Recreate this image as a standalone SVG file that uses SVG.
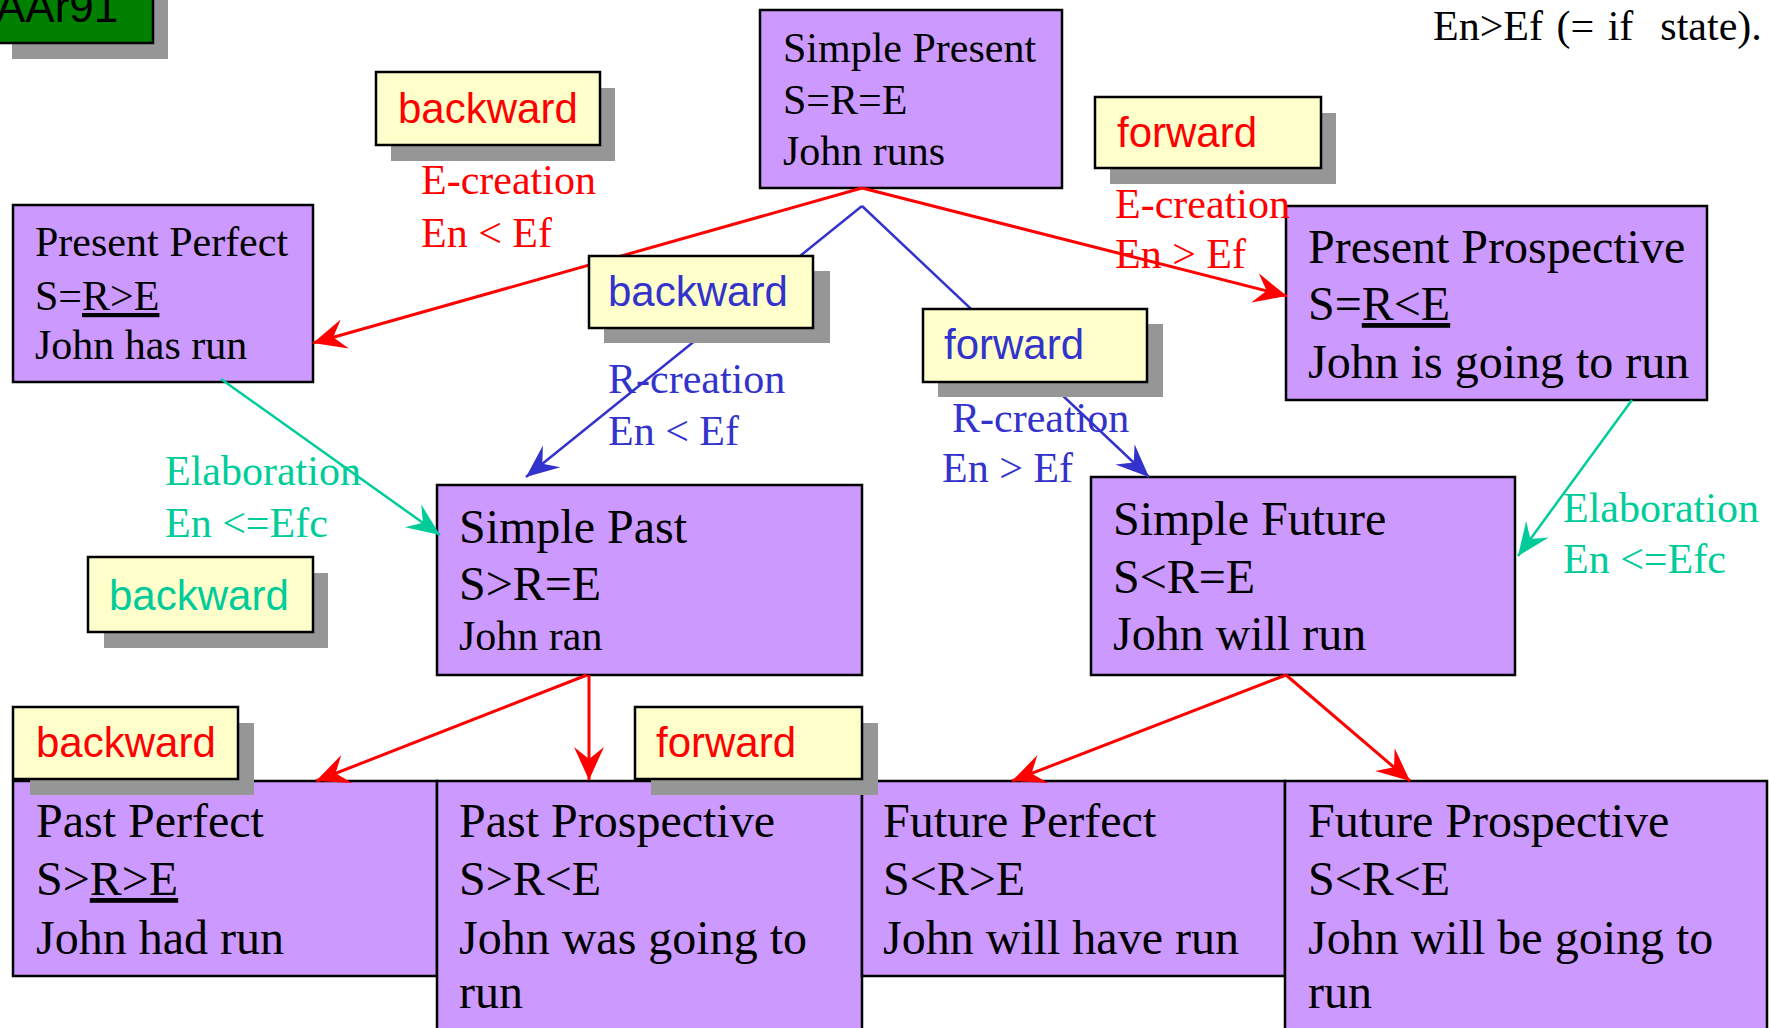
<svg xmlns="http://www.w3.org/2000/svg" width="1769" height="1028" viewBox="0 0 1769 1028">
<style>
.node{fill:#CC99FF;stroke:#000;stroke-width:2.5}
.lbl{fill:#FFFFCC;stroke:#000;stroke-width:2.5}
.shd{fill:#969696}
.t{font-family:"Liberation Serif","Times New Roman",serif;fill:#000}
.s42{font-size:42px}
.s47{font-size:48px}
.a{font-family:"Liberation Sans",Arial,sans-serif;font-size:42px}
.red{fill:#FF0000}
.blue{fill:#3333CC}
.green{fill:#00CC99}
.ul{text-decoration:underline}
.cr{stroke:#FF0000;stroke-width:3;fill:none;marker-end:url(#ar)}
.cb{stroke:#3333CC;stroke-width:2.5;fill:none;marker-end:url(#ab)}
.cg{stroke:#00CC99;stroke-width:2.5;fill:none;marker-end:url(#ag)}
.lt{font-family:"Liberation Serif","Times New Roman",serif;font-size:42px}
</style>
<defs>
<marker id="ar" viewBox="-34 -17 36 34" refX="0" refY="0" markerWidth="36" markerHeight="34" markerUnits="userSpaceOnUse" orient="auto">
<path d="M0,0 L-33,-15 L-21,0 L-33,15 Z" fill="#FF0000"/>
</marker>
<marker id="ab" viewBox="-34 -17 36 34" refX="0" refY="0" markerWidth="36" markerHeight="34" markerUnits="userSpaceOnUse" orient="auto">
<path d="M0,0 L-33,-14 L-21,0 L-33,14 Z" fill="#3333CC"/>
</marker>
<marker id="ag" viewBox="-34 -17 36 34" refX="0" refY="0" markerWidth="36" markerHeight="34" markerUnits="userSpaceOnUse" orient="auto">
<path d="M0,0 L-33,-14 L-21,0 L-33,14 Z" fill="#00CC99"/>
</marker>
</defs>
<rect width="1769" height="1028" fill="#fff"/>

<!-- purple nodes -->
<g id="simple-present">
<rect class="node" x="760" y="10" width="302" height="178"/>
<text class="t s42" x="783" y="62">Simple Present</text>
<text class="t s42" x="783" y="114">S=R=E</text>
<text class="t s42" x="783" y="165">John runs</text>
</g>
<g id="present-perfect">
<rect class="node" x="13" y="205" width="300" height="177"/>
<text class="t s42" x="35" y="256">Present Perfect</text>
<text class="t s42" x="35" y="310">S=<tspan class="ul">R&gt;E</tspan></text>
<text class="t s42" x="35" y="359">John has run</text>
</g>
<g id="present-prospective">
<rect class="node" x="1286" y="206" width="421" height="194"/>
<text class="t s47" x="1308" y="263">Present Prospective</text>
<text class="t s47" x="1308" y="320">S=<tspan class="ul">R&lt;E</tspan></text>
<text class="t s47" x="1308" y="378">John is going to run</text>
</g>
<g id="simple-past">
<rect class="node" x="437" y="485" width="425" height="190"/>
<text class="t s47" x="459" y="543">Simple Past</text>
<text class="t s47" x="459" y="600">S&gt;R=E</text>
<text class="t s42" x="459" y="650">John ran</text>
</g>
<g id="simple-future">
<rect class="node" x="1091" y="477" width="424" height="198"/>
<text class="t s47" x="1113" y="535">Simple Future</text>
<text class="t s47" x="1113" y="593">S&lt;R=E</text>
<text class="t s47" x="1113" y="650">John will run</text>
</g>
<g id="past-perfect">
<rect class="node" x="13" y="781" width="424" height="195"/>
<text class="t s47" x="36" y="837">Past Perfect</text>
<text class="t s47" x="36" y="895">S&gt;<tspan class="ul">R&gt;E</tspan></text>
<text class="t s47" x="36" y="954">John had run</text>
</g>
<g id="past-prospective">
<rect class="node" x="437" y="781" width="425" height="262"/>
<text class="t s47" x="459" y="837">Past Prospective</text>
<text class="t s47" x="459" y="895">S&gt;R&lt;E</text>
<text class="t s47" x="459" y="954">John was going to</text>
<text class="t s47" x="459" y="1008">run</text>
</g>
<g id="future-perfect">
<rect class="node" x="862" y="781" width="423" height="195"/>
<text class="t s47" x="883" y="837">Future Perfect</text>
<text class="t s47" x="883" y="895">S&lt;R&gt;E</text>
<text class="t s47" x="883" y="954">John will have run</text>
</g>
<g id="future-prospective">
<rect class="node" x="1285" y="781" width="482" height="262"/>
<text class="t s47" x="1308" y="837">Future Prospective</text>
<text class="t s47" x="1308" y="895">S&lt;R&lt;E</text>
<text class="t s47" x="1308" y="954">John will be going to</text>
<text class="t s47" x="1308" y="1008">run</text>
</g>

<!-- connectors -->
<g id="connectors">
<line class="cr" x1="862" y1="188" x2="313" y2="343"/>
<line class="cr" x1="862" y1="188" x2="1287" y2="296"/>
<line class="cb" x1="862" y1="206" x2="526" y2="477"/>
<line class="cb" x1="862" y1="206" x2="1149" y2="477"/>
<line class="cg" x1="221" y1="379" x2="440" y2="535"/>
<line class="cg" x1="1632" y1="400" x2="1518" y2="556"/>
<line class="cr" x1="587" y1="675" x2="316" y2="781"/>
<line class="cr" x1="589" y1="675" x2="589" y2="780"/>
<line class="cr" x1="1286" y1="675" x2="1012" y2="781"/>
<line class="cr" x1="1286" y1="675" x2="1410" y2="781"/>
</g>

<!-- label boxes -->
<g id="label-aar91">
<rect class="shd" x="12" y="-14" width="156" height="73"/>
<rect x="-3" y="-30" width="156" height="73" fill="#007F00" stroke="#000" stroke-width="2.5"/>
<text class="a" x="-4" y="22" style="font-size:44px" fill="#000">AAr91</text>
</g>
<g id="label-backward-top">
<rect class="shd" x="391" y="88" width="224" height="73"/>
<rect class="lbl" x="376" y="72" width="224" height="73"/>
<text class="a red" x="398" y="123">backward</text>
</g>
<g id="label-forward-top">
<rect class="shd" x="1110" y="113" width="226" height="71"/>
<rect class="lbl" x="1095" y="97" width="226" height="71"/>
<text class="a red" x="1117" y="147">forward</text>
</g>
<g id="label-backward-blue">
<rect class="shd" x="604" y="271" width="226" height="72"/>
<rect class="lbl" x="589" y="256" width="224" height="72"/>
<text class="a blue" x="608" y="306">backward</text>
</g>
<g id="label-forward-blue">
<rect class="shd" x="938" y="324" width="225" height="73"/>
<rect class="lbl" x="923" y="309" width="224" height="73"/>
<text class="a blue" x="944" y="359">forward</text>
</g>
<g id="label-backward-green">
<rect class="shd" x="104" y="573" width="224" height="75"/>
<rect class="lbl" x="88" y="557" width="225" height="75"/>
<text class="a green" x="109" y="610">backward</text>
</g>
<g id="label-backward-bottom">
<rect class="shd" x="30" y="723" width="224" height="72"/>
<rect class="lbl" x="13" y="707" width="225" height="72"/>
<text class="a red" x="36" y="757">backward</text>
</g>
<g id="label-forward-bottom">
<rect class="shd" x="651" y="723" width="227" height="72"/>
<rect class="lbl" x="635" y="707" width="227" height="72"/>
<text class="a red" x="656" y="757">forward</text>
</g>

<!-- edge texts -->
<g id="edge-labels">
<text class="lt red" x="421" y="194">E-creation</text>
<text class="lt red" x="421" y="247">En &lt; Ef</text>
<text class="lt red" x="1115" y="218">E-creation</text>
<text class="lt red" x="1115" y="268">En &gt; Ef</text>
<text class="lt blue" x="608" y="393">R-creation</text>
<text class="lt blue" x="608" y="445">En &lt; Ef</text>
<text class="lt blue" x="952" y="432">R-creation</text>
<text class="lt blue" x="942" y="482">En &gt; Ef</text>
<text class="lt green" x="165" y="485">Elaboration</text>
<text class="lt green" x="165" y="537">En &lt;=Efc</text>
<text class="lt green" x="1563" y="522">Elaboration</text>
<text class="lt green" x="1563" y="573">En &lt;=Efc</text>
<text class="lt" x="1433" y="40" xml:space="preserve" style="word-spacing:3px">En&gt;Ef (= if  state).</text>
</g>
</svg>
